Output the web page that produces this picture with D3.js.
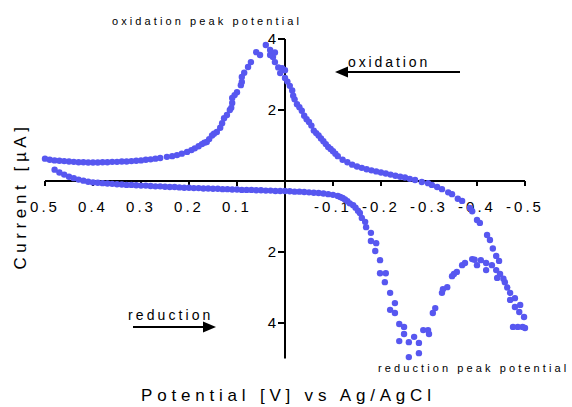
<!DOCTYPE html>
<html><head><meta charset="utf-8">
<script src="https://cdn.jsdelivr.net/npm/d3@7"></script>
<style>
body{margin:0;background:#fff}
svg{display:block}
text{font-family:Arial,"Liberation Sans",sans-serif;fill:#000}
</style>
</head><body>
<script>
// ---------- data ----------
const xTicks = [0.5, 0.4, 0.3, 0.2, 0.1, 0, -0.1, -0.2, -0.3, -0.4, -0.5];
const xTickLabels = ["0.5", "0.4", "0.3", "0.2", "0.1", "", "-0.1", "-0.2", "-0.3", "-0.4", "-0.5"];
const yTicks = [4, 2, -2, -4];
const yTickLabels = ["4", "2", "2", "4"];

// cathodic (reduction) scan, +0.5 V -> -0.5 V
const potentialReduction = [
  0.48, 0.47, 0.46, 0.45, 0.44, 0.43, 0.42, 0.41, 0.40, 0.39,
  0.38, 0.37, 0.36, 0.35, 0.34, 0.33, 0.32, 0.31, 0.30, 0.29,
  0.28, 0.27, 0.26, 0.25, 0.24, 0.23, 0.22, 0.21, 0.20, 0.19,
  0.18, 0.17, 0.16, 0.15, 0.14, 0.13, 0.12, 0.11, 0.10, 0.09,
  0.08, 0.07, 0.06, 0.05, 0.04, 0.03, 0.02, 0.01, 0.00, -0.01,
  -0.02, -0.03, -0.04, -0.05, -0.06, -0.07, -0.08, -0.09, -0.10, -0.11,
  -0.115, -0.12, -0.125, -0.13, -0.135, -0.142, -0.147, -0.152, -0.156, -0.160,
  -0.167, -0.169, -0.179, -0.179, -0.190, -0.188, -0.198, -0.198, -0.210, -0.208,
  -0.219, -0.229, -0.219, -0.229, -0.238, -0.248, -0.248, -0.238, -0.258, -0.258,
  -0.269, -0.279, -0.279, -0.288, -0.298, -0.300, -0.308, -0.313, -0.327, -0.329,
  -0.338, -0.348, -0.352, -0.358, -0.369, -0.375, -0.390, -0.395, -0.400, -0.408,
  -0.419, -0.419, -0.431, -0.440, -0.442, -0.448, -0.458, -0.463, -0.469, -0.479,
  -0.488, -0.498, -0.500
];
const currentReduction = [
  0.32, 0.24, 0.18, 0.12, 0.08, 0.04, 0.01, -0.02, -0.04, -0.05,
  -0.06, -0.07, -0.08, -0.09, -0.10, -0.11, -0.11, -0.12, -0.13, -0.13,
  -0.14, -0.15, -0.15, -0.16, -0.17, -0.17, -0.18, -0.19, -0.19, -0.20,
  -0.20, -0.21, -0.21, -0.22, -0.22, -0.23, -0.23, -0.24, -0.24, -0.25,
  -0.25, -0.25, -0.26, -0.26, -0.27, -0.27, -0.28, -0.28, -0.28, -0.29,
  -0.30, -0.30, -0.31, -0.32, -0.33, -0.34, -0.35, -0.37, -0.39, -0.42,
  -0.45, -0.48, -0.52, -0.57, -0.63, -0.68, -0.75, -0.84, -0.90, -1.04,
  -1.15, -1.30, -1.46, -1.69, -1.75, -1.97, -2.23, -2.60, -2.60, -2.85,
  -3.15, -3.44, -3.63, -3.72, -4.03, -4.11, -4.31, -4.51, -4.54, -4.96,
  -4.39, -4.56, -4.85, -4.20, -4.20, -4.31, -3.72, -3.58, -3.15, -3.05,
  -2.99, -2.68, -2.62, -2.56, -2.37, -2.31, -2.20, -2.22, -2.37, -2.23,
  -2.31, -2.51, -2.37, -2.51, -2.73, -2.62, -2.85, -3.00, -3.15, -3.55,
  -3.69, -3.83, -4.14
];

// anodic (oxidation) scan, -0.5 V -> +0.5 V
const potentialOxidation = [
  -0.495, -0.485, -0.475, -0.490, -0.479, -0.469, -0.455, -0.446, -0.440, -0.433,
  -0.427, -0.421, -0.406, -0.400, -0.390, -0.385, -0.369, -0.360, -0.348, -0.340,
  -0.327, -0.317, -0.306, -0.298, -0.285, -0.271, -0.26, -0.25, -0.24, -0.23,
  -0.22, -0.21, -0.20, -0.19, -0.18, -0.17, -0.16, -0.15, -0.14, -0.13,
  -0.12, -0.11, -0.105, -0.10, -0.095, -0.09, -0.085, -0.08, -0.075, -0.07,
  -0.065, -0.06, -0.055, -0.05, -0.045, -0.04, -0.035, -0.03, -0.025, -0.02,
  -0.017, -0.015, -0.01, -0.005, 0.000, 0.000, 0.006, 0.010, 0.014, 0.021,
  0.025, 0.031, 0.031, 0.021, 0.040, 0.052, 0.060, 0.071, 0.077, 0.085,
  0.090, 0.090, 0.092, 0.100, 0.105, 0.110, 0.110, 0.112, 0.115, 0.121,
  0.127, 0.131, 0.135, 0.142, 0.148, 0.152, 0.158, 0.163, 0.168, 0.173,
  0.180, 0.188, 0.195, 0.204, 0.215, 0.225, 0.235, 0.246, 0.26, 0.27,
  0.28, 0.29, 0.30, 0.31, 0.32, 0.33, 0.34, 0.35, 0.36, 0.37,
  0.38, 0.39, 0.40, 0.41, 0.42, 0.43, 0.44, 0.45, 0.46, 0.47,
  0.48, 0.49, 0.50
];
const currentOxidation = [
  -4.11, -4.11, -4.11, -3.49, -3.30, -3.35, -2.75, -2.25, -2.11, -1.90,
  -1.66, -1.52, -1.18, -1.10, -0.85, -0.76, -0.56, -0.50, -0.37, -0.32,
  -0.23, -0.17, -0.11, -0.06, -0.03, 0.03, 0.06, 0.10, 0.12, 0.15,
  0.18, 0.21, 0.24, 0.27, 0.30, 0.33, 0.37, 0.41, 0.46, 0.53,
  0.60, 0.70, 0.77, 0.84, 0.90, 0.96, 1.04, 1.12, 1.20, 1.28,
  1.35, 1.42, 1.56, 1.66, 1.74, 1.84, 1.98, 2.08, 2.16, 2.30,
  2.40, 2.55, 2.68, 2.80, 2.90, 3.12, 3.18, 3.04, 3.20, 3.35,
  3.49, 3.55, 3.69, 3.62, 3.83, 3.55, 3.63, 3.35, 3.21, 3.05,
  2.93, 2.79, 2.70, 2.50, 2.42, 2.34, 2.20, 2.06, 2.00, 1.86,
  1.77, 1.63, 1.50, 1.38, 1.33, 1.28, 1.18, 1.10, 1.08, 1.04,
  0.98, 0.92, 0.87, 0.82, 0.77, 0.73, 0.70, 0.68, 0.65, 0.63,
  0.61, 0.60, 0.58, 0.57, 0.56, 0.55, 0.55, 0.54, 0.54, 0.53,
  0.53, 0.52, 0.52, 0.52, 0.53, 0.53, 0.54, 0.55, 0.56, 0.57,
  0.58, 0.60, 0.63
];

// ---------- chart ----------
const W = 572, H = 407;
const dotColor = "#5757f0";
const svg = d3.select("body").append("svg").attr("width", W).attr("height", H);

const x = d3.scaleLinear().domain([0.5, -0.5]).range([45, 525]);
const y = d3.scaleLinear().domain([-5, 4]).range([358.5, 39]);

// x axis (crossing at I = 0)
const gx = svg.append("g")
  .attr("transform", `translate(0,${y(0)})`)
  .call(d3.axisBottom(x).tickValues(xTicks).tickSize(5).tickSizeOuter(0).offset(0)
    .tickFormat((d, i) => xTickLabels[i]));
gx.select(".domain").attr("stroke", "#000").attr("stroke-width", 2);
gx.selectAll(".tick line").attr("stroke", "#000").attr("stroke-width", 2);
gx.selectAll(".tick text")
  .attr("y", 31).attr("dy", 0)
  .style("font-size", "15px").style("letter-spacing", "3px")
  .attr("font-family", null);

// y axis (crossing at V = 0)
const gy = svg.append("g")
  .attr("transform", `translate(${x(0)},0)`)
  .call(d3.axisLeft(y).tickValues(yTicks).tickSize(7).tickSizeOuter(0).offset(0)
    .tickFormat((d, i) => yTickLabels[i]));
gy.select(".domain").attr("stroke", "#000").attr("stroke-width", 2);
gy.selectAll(".tick line").attr("stroke", "#000").attr("stroke-width", 2);
gy.selectAll(".tick text")
  .attr("x", -9).attr("dy", "0.36em")
  .style("font-size", "15px")
  .attr("font-family", null);

// data points
const pts = potentialReduction.map((v, i) => [v, currentReduction[i]])
  .concat(potentialOxidation.map((v, i) => [v, currentOxidation[i]]));
svg.append("g").selectAll("circle").data(pts).join("circle")
  .attr("cx", d => x(d[0])).attr("cy", d => y(d[1]))
  .attr("r", 3.2).attr("fill", dotColor);

// annotations
svg.append("text").attr("x", 112).attr("y", 24.5)
  .style("font-size", "11px").style("letter-spacing", "3.1px")
  .text("oxidation peak potential");
svg.append("text").attr("x", 378).attr("y", 372)
  .style("font-size", "11px").style("letter-spacing", "3.1px")
  .text("reduction peak potential");

svg.append("text").attr("x", 348).attr("y", 66.5)
  .style("font-size", "14px").style("letter-spacing", "2.9px")
  .text("oxidation");
svg.append("line").attr("x1", 460).attr("x2", 345).attr("y1", 72).attr("y2", 72)
  .attr("stroke", "#000").attr("stroke-width", 2);
svg.append("path").attr("d", "M335,72L348,66.5L348,77.5Z").attr("fill", "#000");

svg.append("text").attr("x", 128).attr("y", 320)
  .style("font-size", "14px").style("letter-spacing", "3.1px")
  .text("reduction");
svg.append("line").attr("x1", 133).attr("x2", 206).attr("y1", 327).attr("y2", 327)
  .attr("stroke", "#000").attr("stroke-width", 2);
svg.append("path").attr("d", "M216,327L203,321.5L203,332.5Z").attr("fill", "#000");

// axis titles
svg.append("text").attr("x", 141).attr("y", 401)
  .style("font-size", "17px").style("letter-spacing", "4.8px")
  .text("Potential [V] vs Ag/AgCl");
svg.append("text")
  .attr("transform", "translate(26,196) rotate(-90)")
  .attr("text-anchor", "middle")
  .style("font-size", "17px").style("letter-spacing", "4.6px")
  .text("Current [µA]");
</script>
</body></html>
